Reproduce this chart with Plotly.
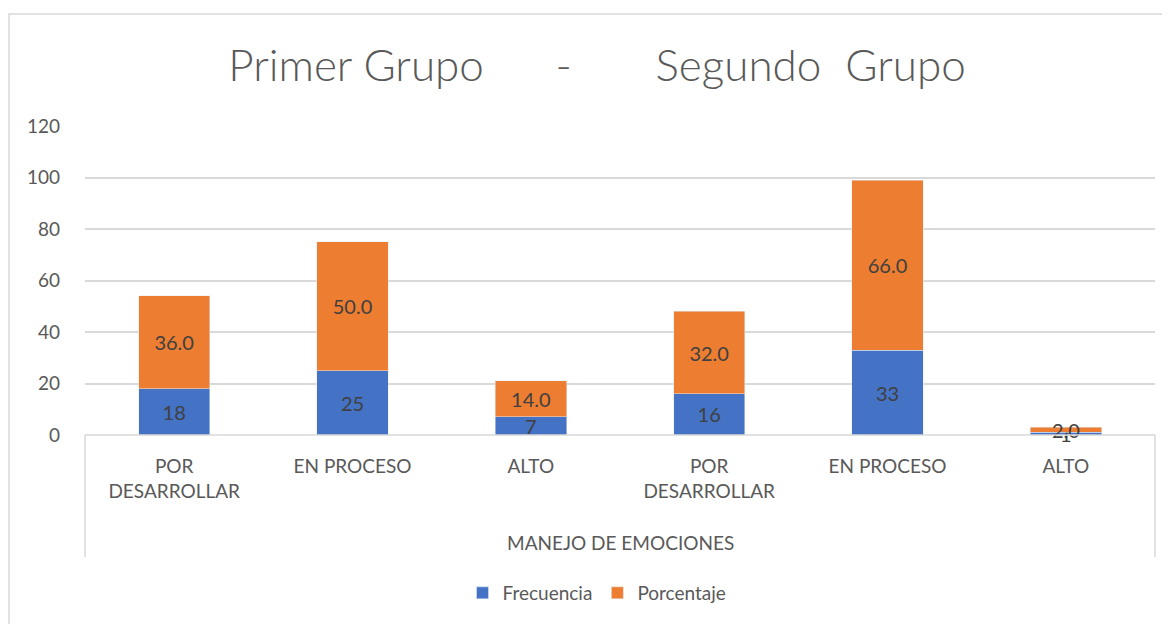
import plotly.graph_objects as go

categories = ["POR<br>DESARROLLAR", "EN PROCESO", "ALTO", "POR<br>DESARROLLAR", "EN PROCESO", "ALTO"]
group_label = "MANEJO DE EMOCIONES"
frecuencia = [18, 25, 7, 16, 33, 1]
porcentaje = [36.0, 50.0, 14.0, 32.0, 66.0, 2.0]
title_text = "Primer Grupo&nbsp;&nbsp;&nbsp;&nbsp;&nbsp;&nbsp;-&nbsp;&nbsp;&nbsp;&nbsp;&nbsp;&nbsp;&nbsp;Segundo&nbsp;&nbsp;Grupo"

x = list(range(len(categories)))
FONT = "Lato, 'Open Sans', sans-serif"
GRAY = "#595959"
OFF = 8  # page body margin

fig = go.Figure()
fig.add_trace(go.Bar(
    x=x, y=frecuencia, name="Frecuencia", marker_color="#4472C4",
    text=[f"{v:d}" for v in frecuencia], textposition="inside", textangle=0,
    insidetextanchor="middle", constraintext="none", cliponaxis=False,
    textfont=dict(size=20, color="#404040", family=FONT), width=0.4,
))
fig.add_trace(go.Bar(
    x=x, y=porcentaje, name="Porcentaje", marker_color="#ED7D31",
    text=[f"{v:.1f}" for v in porcentaje], textposition="inside", textangle=0,
    insidetextanchor="middle", constraintext="none", cliponaxis=False,
    textfont=dict(size=20, color="#404040", family=FONT), width=0.4,
))

W, H = 1170 - OFF, 624 - OFF
L, R, T, B = 85 - OFF, 15, 126 - OFF, 624 - 435
pw, ph = W - L - R, H - T - B

def py(v):
    return (H - B - (v - OFF)) / ph

def pxx(v):
    return (v - OFF - L) / pw

line_style = dict(color="#D9D9D9", width=1.5)
shapes = [
    dict(type="line", xref="paper", yref="paper", x0=0, x1=1, y0=0, y1=0, line=line_style),
    dict(type="line", xref="paper", yref="paper", x0=0, x1=0, y0=0, y1=py(557), line=line_style),
    dict(type="line", xref="paper", yref="paper", x0=1, x1=1, y0=0, y1=py(557), line=line_style),
    dict(type="rect", xref="paper", yref="paper", x0=pxx(9), x1=pxx(1185),
         y0=py(640), y1=py(14), line=line_style),
]

fig.update_layout(
    barmode="stack",
    width=W, height=H,
    margin=dict(l=L, r=R, t=T, b=B),
    paper_bgcolor="white", plot_bgcolor="white",
    font=dict(family=FONT, color=GRAY, size=18),
    title=dict(text=title_text, x=(597 - OFF) / W, xanchor="center",
               y=1 - (66 - OFF) / H, yanchor="middle",
               font=dict(size=44, color=GRAY, family=FONT, weight=300)),
    xaxis=dict(range=[-0.5, 5.5], tickmode="array", tickvals=x, ticktext=categories,
               showgrid=False, showline=False, zeroline=False, ticks="",
               tickfont=dict(size=19, color=GRAY), ticklabelstandoff=18),
    yaxis=dict(range=[0, 120], dtick=20, showgrid=True, gridcolor="#D9D9D9",
               gridwidth=1.5, zeroline=False, showline=False, ticks="",
               tickfont=dict(size=19, color=GRAY), ticklabelstandoff=24),
    legend=dict(orientation="h", x=pxx(597), xanchor="center",
                y=py(593), yanchor="middle", font=dict(size=19, color=GRAY),
                traceorder="normal"),
    shapes=shapes,
    annotations=[dict(text=group_label, xref="paper", yref="paper", x=0.5,
                      y=py(542), showarrow=False, xanchor="center",
                      yanchor="middle", font=dict(size=19, color=GRAY))],
    showlegend=True,
)

fig.write_html("out.html")
